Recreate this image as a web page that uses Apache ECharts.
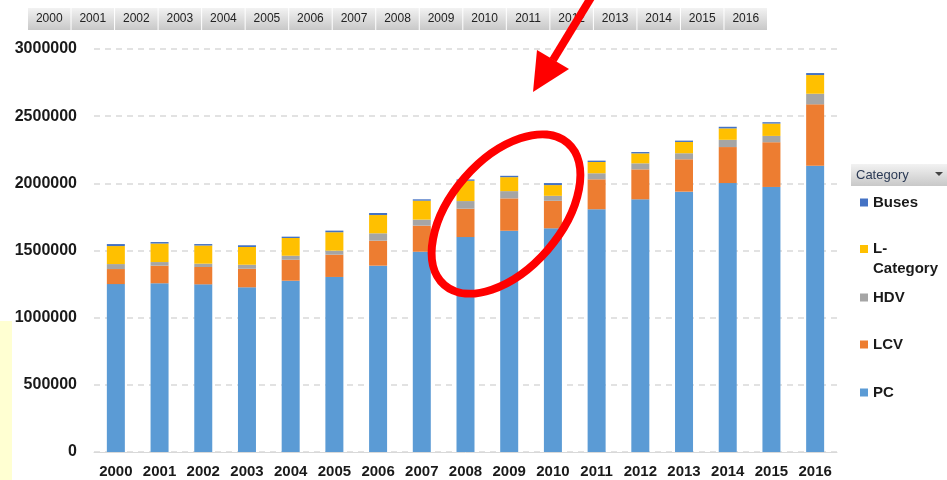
<!DOCTYPE html>
<html>
<head>
<meta charset="utf-8">
<script src="https://cdn.jsdelivr.net/npm/echarts@6/dist/echarts.min.js"></script>
<style>
html, body { margin: 0; padding: 0; background: #fff; }
#container12 { width: 947px; height: 480px; }
</style>
</head>
<body>
<div id="container12"></div>
<script>
// vehicle stock by category, 2000-2016
var years = ['2000', '2001', '2002', '2003', '2004', '2005', '2006', '2007', '2008',
    '2009', '2010', '2011', '2012', '2013', '2014', '2015', '2016'];
var pc = [1250000, 1256000, 1248000, 1226000, 1275000, 1303000, 1387000, 1491000, 1600000,
    1647000, 1665000, 1807000, 1881000, 1938000, 2002000, 1973000, 2131000];
var lcv = [112000, 131000, 129000, 138000, 156000, 166000, 186000, 194000, 211000,
    241000, 205000, 223000, 223000, 241000, 268000, 333000, 457000];
var hdv = [37000, 27000, 25000, 30000, 30000, 30000, 55000, 45000, 57000,
    54000, 37000, 45000, 45000, 45000, 54000, 47000, 79000];
var lCategory = [134000, 138000, 135000, 132000, 132000, 137000, 136000, 141000, 151000,
    104000, 80000, 84000, 74000, 84000, 85000, 92000, 139000];
var buses = [15000, 11000, 11000, 13000, 10000, 12000, 15000, 10000, 10000,
    10000, 15000, 10000, 10000, 10000, 12000, 10000, 15000];
var yTicks = [0, 500000, 1000000, 1500000, 2000000, 2500000, 3000000];

var seriesNames = ['PC', 'LCV', 'HDV', 'L-Category', 'Buses'];
var seriesData = [pc, lcv, hdv, lCategory, buses];
var colors = ['#5b9bd5', '#ed7d31', '#a5a5a5', '#ffc000', '#4472c4'];

var myChart = echarts.init(document.getElementById('container12'));

// legend, one block per item (top to bottom: Buses ... PC)
var legendOrder = ['Buses', 'L-Category', 'HDV', 'LCV', 'PC'];
var legendTops = [194, 219, 289, 336, 384];
var legends = legendOrder.map(function (name, i) {
    var multi = name === 'L-Category';
    return {
        data: [name],
        left: 860,
        top: legendTops[i],
        orient: 'vertical',
        padding: 0,
        icon: 'rect',
        itemWidth: 8,
        itemHeight: 8,
        selectedMode: false,
        // blank first line keeps the icon level with "L-"
        formatter: multi ? '\nL-\nCategory' : '{name}',
        textStyle: {
            fontFamily: 'Liberation Sans, Arial, sans-serif',
            fontSize: 15,
            fontWeight: 'bold',
            color: '#1a1a1a',
            lineHeight: multi ? 20 : 17
        }
    };
});

// top year filter strip (pivot buttons)
var btnLeft = 28, btnW = 43.53;
var buttons = years.map(function (y, i) {
    return {
        type: 'group',
        x: btnLeft + i * btnW,
        y: 8,
        children: [
            {
                type: 'rect',
                shape: { x: 0, y: 0, width: btnW - 1, height: 22 },
                style: {
                    fill: new echarts.graphic.LinearGradient(0, 0, 0, 1, [
                        { offset: 0, color: '#f2f2f2' },
                        { offset: 1, color: '#c8c8c8' }
                    ])
                }
            },
            {
                type: 'text',
                x: (btnW - 1) / 2,
                y: 11,
                style: {
                    text: y,
                    align: 'center',
                    verticalAlign: 'middle',
                    fontFamily: 'Liberation Sans, Arial, sans-serif',
                    fontSize: 12,
                    fill: '#222'
                }
            }
        ]
    };
});

var option = {
    animation: false,
    backgroundColor: '#fff',
    color: colors,
    grid: {
        left: 94,
        right: 110,
        top: 49,
        bottom: 28
    },
    legend: legends,
    xAxis: {
        type: 'category',
        data: years,
        axisTick: { show: false },
        axisLine: { lineStyle: { color: '#d9d9d9', width: 1 } },
        axisLabel: {
            margin: 12,
            fontFamily: 'Liberation Sans, Arial, sans-serif',
            fontSize: 15,
            fontWeight: 'bold',
            color: '#1a1a1a'
        }
    },
    yAxis: {
        type: 'value',
        min: yTicks[0],
        max: yTicks[yTicks.length - 1],
        interval: yTicks[1] - yTicks[0],
        axisLine: { show: false },
        axisTick: { show: false },
        splitLine: {
            lineStyle: { color: '#d9d9d9', type: [6, 5], width: 1.5 }
        },
        axisLabel: {
            margin: 17,
            formatter: function (v) { return String(v); },
            fontFamily: 'Liberation Sans, Arial, sans-serif',
            fontSize: 16,
            fontWeight: 'bold',
            color: '#1a1a1a'
        }
    },
    series: seriesNames.map(function (name, i) {
        return {
            name: name,
            type: 'bar',
            stack: 'total',
            barWidth: 18,
            data: seriesData[i],
            itemStyle: { color: colors[i] }
        };
    }),
    graphic: [
        {
            type: 'rect',
            shape: { x: 0, y: 321, width: 12, height: 159 },
            style: { fill: '#ffffd2' }
        },
        {
            type: 'group',
            children: buttons
        },
        // "Category" dropdown button
        {
            type: 'group',
            x: 851,
            y: 164,
            children: [
                {
                    type: 'rect',
                    shape: { x: 0, y: 0, width: 96, height: 22 },
                    style: {
                        fill: new echarts.graphic.LinearGradient(0, 0, 0, 1, [
                            { offset: 0, color: '#f2f2f2' },
                            { offset: 1, color: '#c8c8c8' }
                        ])
                    }
                },
                {
                    type: 'text',
                    x: 5,
                    y: 11,
                    style: {
                        text: 'Category',
                        verticalAlign: 'middle',
                        fontFamily: 'Liberation Sans, Arial, sans-serif',
                        fontSize: 13,
                        fill: '#2b3a55'
                    }
                },
                {
                    type: 'polygon',
                    shape: { points: [[84, 8], [92, 8], [88, 12]] },
                    style: { fill: '#444' }
                }
            ]
        },
        // red annotation
        {
            type: 'ellipse',
            x: 506,
            y: 214,
            rotation: 49 * Math.PI / 180,
            z: 100,
            shape: { cx: 0, cy: 0, rx: 94, ry: 55 },
            style: { fill: null, stroke: '#ff0000', lineWidth: 8 }
        },
        {
            type: 'line',
            z: 100,
            shape: { x1: 592, y1: -4, x2: 553, y2: 60 },
            style: { stroke: '#ff0000', lineWidth: 8 }
        },
        {
            type: 'polygon',
            z: 100,
            shape: { points: [[533, 92], [537, 50], [569, 69]] },
            style: { fill: '#ff0000' }
        }
    ]
};
myChart.setOption(option);
</script>
</body>
</html>
